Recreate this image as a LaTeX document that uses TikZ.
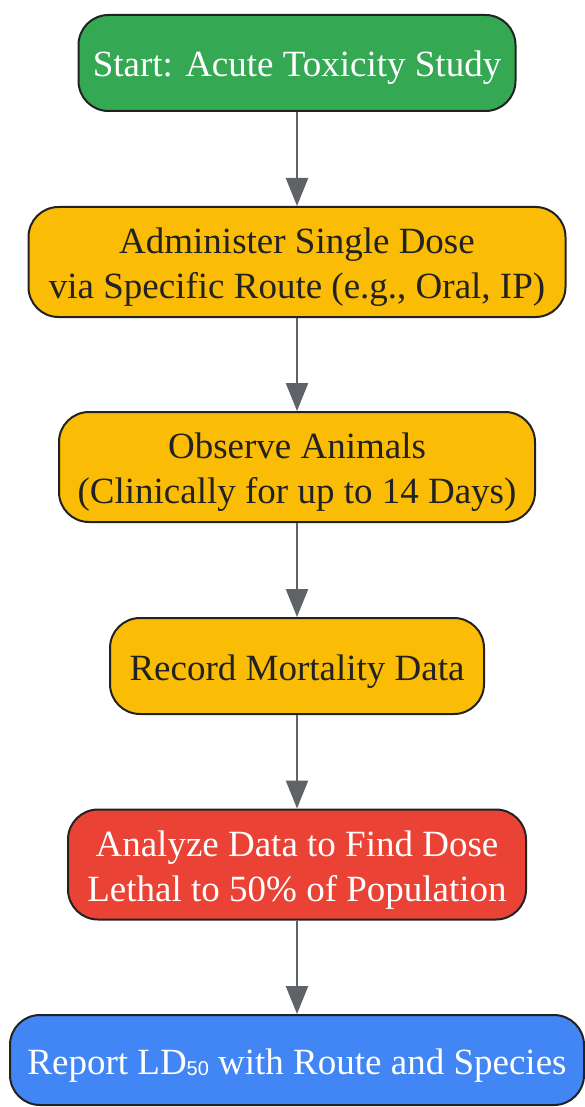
\documentclass[tikz,border=0pt]{standalone}
\usepackage{fontspec}
\setmainfont{Liberation Serif}
\newfontfamily\digitfont{Liberation Sans}
\usetikzlibrary{arrows.meta}
\definecolor{stepgreen}{HTML}{34A853}
\definecolor{stepyellow}{HTML}{FBBC05}
\definecolor{stepred}{HTML}{EA4335}
\definecolor{stepblue}{HTML}{4285F4}
\definecolor{edgegray}{HTML}{5F6368}
\definecolor{textdark}{HTML}{222222}
\newcommand{\steptext}[1]{\vbox{\vskip5pt\hbox{\begin{tabular}{@{}c@{}}#1\end{tabular}}}}
\begin{document}
\begin{tikzpicture}[x=0.5pt,y=-0.5pt,
  stepbox/.style={draw=textdark,line width=1pt,rounded corners=15pt,
    inner sep=0pt,font=\fontsize{18.5}{22.5}\selectfont},
  onebox/.style={stepbox,minimum height=48pt},
  twobox/.style={stepbox,minimum height=55pt},
  flow/.style={draw=edgegray,line width=1.25pt,-{Triangle[length=14pt,width=11pt]}}]
\useasboundingbox (0,0) rectangle (584,1107);
\node[onebox,fill=stepgreen,text=white,minimum width=218.5pt] (start) at (297,63)
  {\steptext{Start: Acute Toxicity Study}};
\node[twobox,fill=stepyellow,text=textdark,minimum width=268.5pt] (dose) at (297,262)
  {\steptext{Administer Single Dose\\via Specific Route (e.g., Oral, IP)}};
\node[twobox,fill=stepyellow,text=textdark,minimum width=238pt] (observe) at (297,467)
  {\steptext{Observe Animals\\(Clinically for up to 14 Days)}};
\node[onebox,fill=stepyellow,text=textdark,minimum width=187pt] (record) at (297,666)
  {\steptext{Record Mortality Data}};
\node[twobox,fill=stepred,text=white,minimum width=229pt] (analyze) at (297,864.5)
  {\steptext{Analyze Data to Find Dose\\Lethal to 50\% of Population}};
\node[stepbox,fill=stepblue,text=white,minimum width=287pt,minimum height=45pt] (report) at (297,1060)
  {\steptext{Report LD{\digitfont\fontsize{10}{10}\selectfont\raisebox{-0.5pt}{50}} with Route and Species}};
\draw[flow] (start) -- (dose);
\draw[flow] (dose) -- (observe);
\draw[flow] (observe) -- (record);
\draw[flow] (record) -- (analyze);
\draw[flow] (analyze) -- (report);
\end{tikzpicture}
\end{document}
